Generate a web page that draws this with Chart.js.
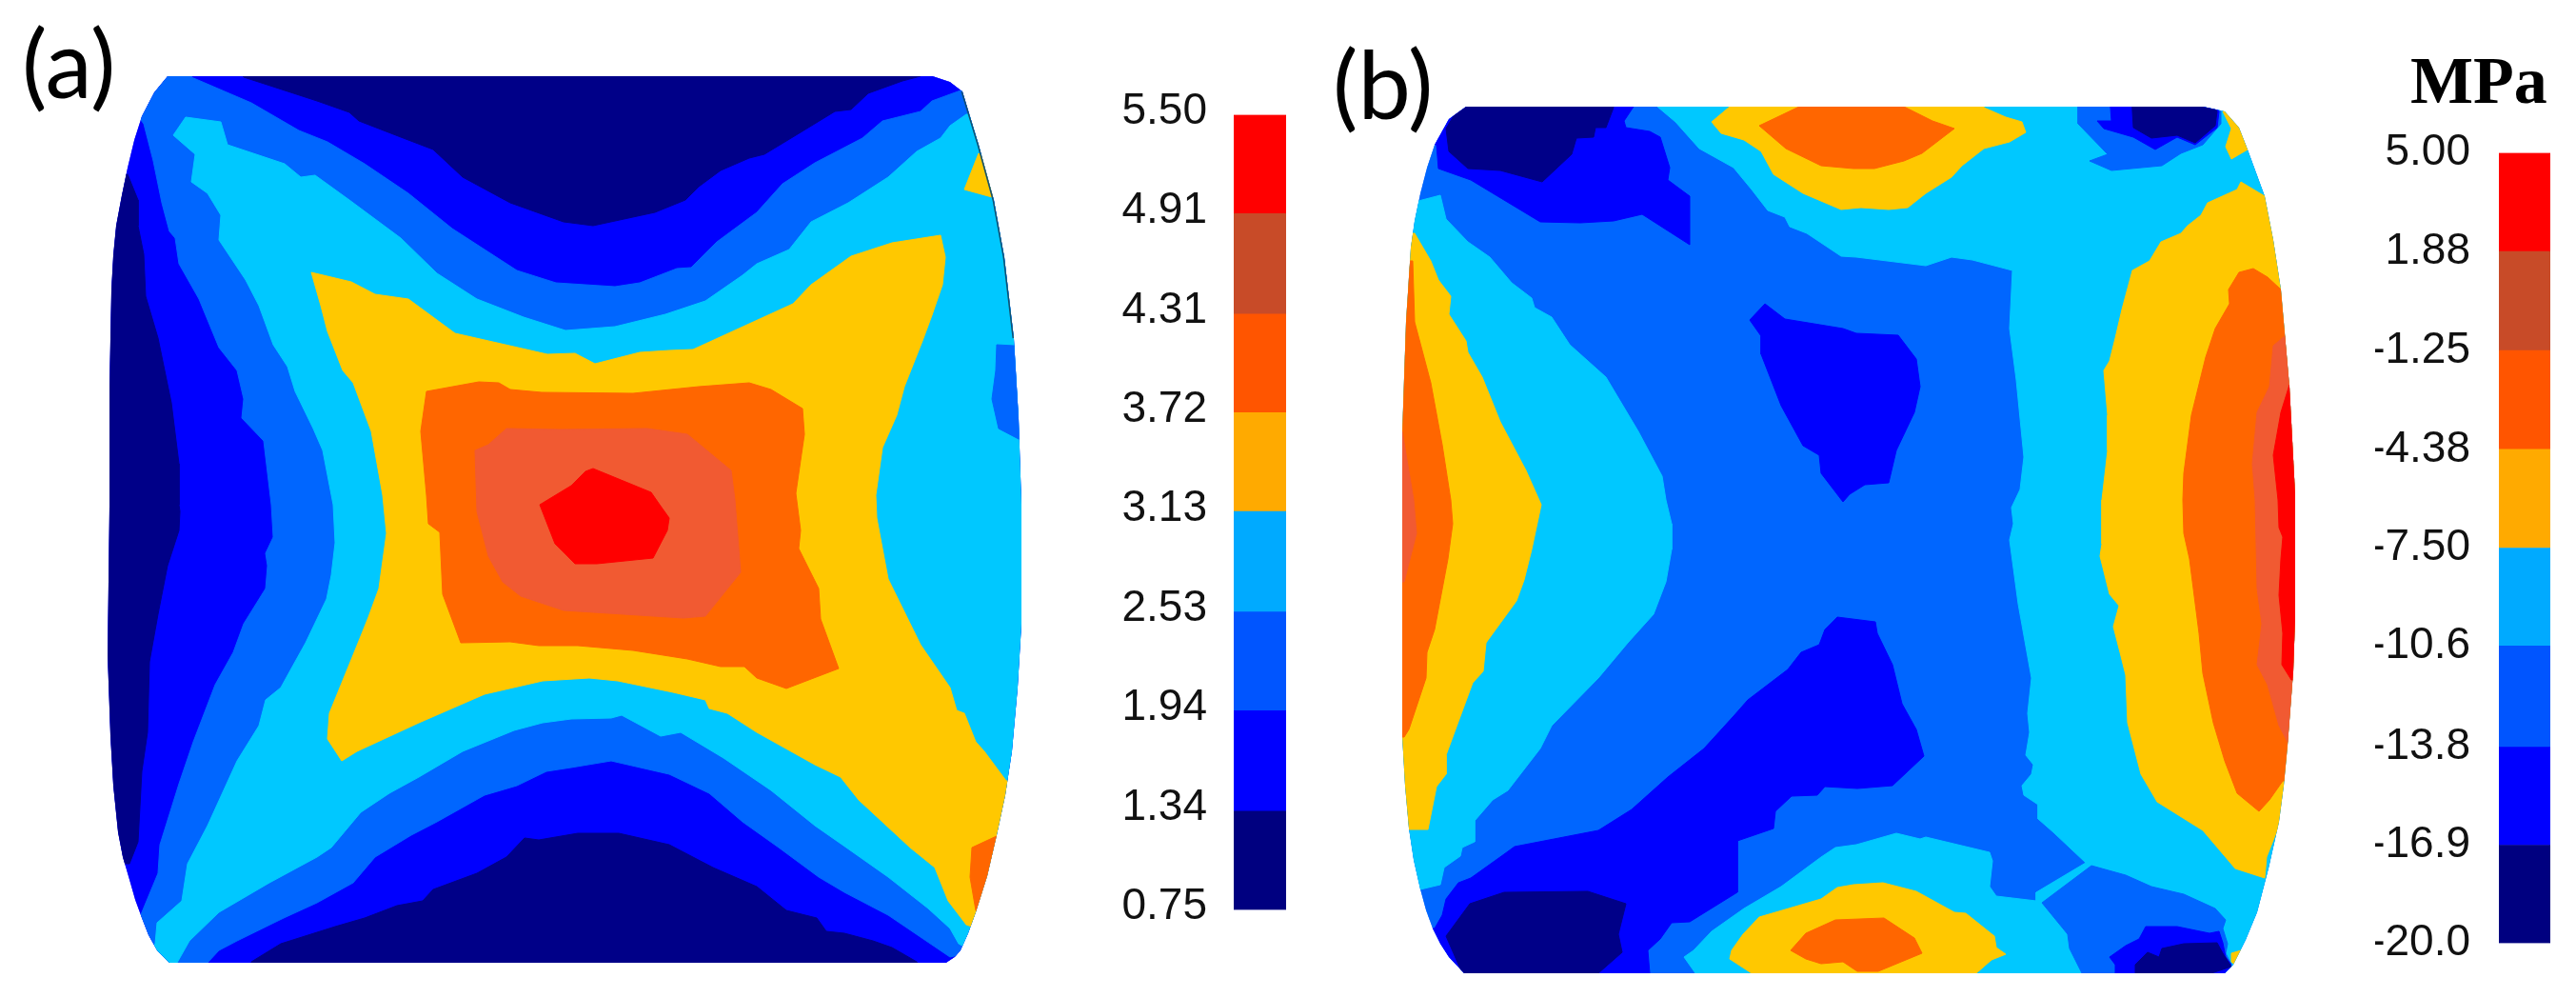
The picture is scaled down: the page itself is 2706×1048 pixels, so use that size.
<!DOCTYPE html>
<html>
<head>
<meta charset="utf-8">
<script src="https://cdn.jsdelivr.net/npm/chart.js@4"></script>
<style>
  html, body { margin: 0; background: #fff; }
  body { position: relative; width: 2706px; height: 1048px; overflow: hidden; }
  canvas { position: absolute; }
  .tag { position: absolute; font-family: Lato, sans-serif; font-size: 99px; line-height: 1; color: #000; }
  #unit { position: absolute; font: bold 70px "Liberation Serif", serif; line-height: 1; color: #000; left: 2532px; top: 50px; }
</style>
</head>
<body>
<div class="tag" style="left:23px;top:15px">(a)</div>
<div class="tag" style="left:1400px;top:37px">(b)</div>
<div id="unit">MPa</div>
<canvas id="fieldA" style="left:90px;top:60px" width="1020" height="980"></canvas>
<canvas id="barA" style="left:1166px;top:65px" width="185" height="946"></canvas>
<canvas id="fieldB" style="left:1440px;top:90px" width="1010" height="950"></canvas>
<canvas id="barB" style="left:2495px;top:103px" width="184" height="945"></canvas>
<script>
// colours of the contour bands, lowest to highest
const bandColors = ['#000088', '#0000ff', '#0066ff', '#00c8ff', '#ffc800', '#ff6600', '#f15a32', '#ff0000'];
// the legend bars use a slightly different palette in the original
const legendColors = ['#000080', '#0000ff', '#0055ff', '#00aaff', '#ffaa00', '#ff5500', '#c84b28', '#ff0000'];

const legendValuesA = [0.75, 1.34, 1.94, 2.53, 3.13, 3.72, 4.31, 4.91, 5.50];
const legendLabelsA = ['0.75', '1.34', '1.94', '2.53', '3.13', '3.72', '4.31', '4.91', '5.50'];
const legendValuesB = [-20.0, -16.9, -13.8, -10.6, -7.50, -4.38, -1.25, 1.88, 5.00];
const legendLabelsB = ['-20.0', '-16.9', '-13.8', '-10.6', '-7.50', '-4.38', '-1.25', '1.88', '5.00'];

// panel (a) specimen outline and contour bands
const outlineA = [[176,80],[162,97],[149,122],[141,147],[134,176],[128,205],[122,237],[119,268],[117,304],[115,406],[115,530],[113,688],[116,773],[119,825],[124,874],[129,900],[136,924],[142,945],[149,964],[156,982],[165,998],[178,1011],[994,1011],[1003,1005],[1009,998],[1017,980],[1025,958],[1037,920],[1047,877],[1056,835],[1063,789],[1069,722],[1073,655],[1073,530],[1070,439],[1065,355],[1055,270],[1044,210],[1028,152],[1011,96],[998,86],[980,80]];
const rimA = [[1011,96],[1028,152],[1044,210],[1055,270],[1065,355]];
const aNavyTop = [[256,60],[256,81],[333,106],[367,118],[377,127],[421,144],[455,157],[486,186],[536,213],[592,233],[623,237],[688,223],[720,210],[734,196],[757,179],[787,166],[803,162],[841,139],[877,117],[894,115],[912,98],[948,85],[967,80],[967,60]];
const aNavyLeft = [[90,183],[134,183],[145,210],[145,237],[151,267],[153,311],[166,355],[180,423],[188,487],[188,530],[189,537],[188,557],[176,594],[166,645],[157,695],[155,769],[149,810],[145,884],[136,907],[90,907]];
const aNavyBottom = [[264,1040],[264,1010],[295,991],[352,973],[383,964],[417,951],[444,946],[455,934],[501,917],[532,900],[551,880],[566,882],[607,875],[650,875],[703,887],[749,911],[795,931],[826,956],[858,964],[868,978],[887,980],[917,988],[937,995],[963,1010],[963,1040]];
const aBand2 = [[120,90],[170,60],[201,60],[201,81],[264,108],[314,137],[344,149],[383,172],[429,203],[475,240],[543,284],[584,297],[646,301],[672,297],[711,282],[726,281],[753,254],[795,223],[822,193],[856,171],[906,145],[927,127],[967,117],[979,106],[1009,95],[1100,90],[1100,1030],[1020,1000],[998,1005],[933,961],[887,937],[860,921],[818,890],[780,863],[745,833],[703,813],[642,799],[600,806],[574,810],[543,825],[509,835],[459,863],[432,877],[394,900],[371,927],[333,948],[298,964],[249,988],[230,998],[218,1011],[218,1030],[130,1000],[149,958],[166,917],[168,887],[188,823],[203,779],[226,719],[245,685],[256,655],[279,618],[281,594],[279,581],[287,564],[285,530],[277,463],[254,439],[256,419],[249,389],[230,365],[209,314],[188,277],[184,250],[178,243],[170,213],[161,169],[151,130]];
const aBand3 = [[195,123],[232,128],[239,152],[299,172],[316,186],[331,184],[367,210],[421,250],[459,287],[501,314],[550,333],[594,347],[646,343],[699,330],[741,316],[780,289],[795,277],[829,262],[852,233],[891,213],[933,186],[963,159],[988,145],[998,132],[1015,120],[1100,120],[1100,1040],[1007,991],[998,975],[975,954],[933,921],[889,890],[856,867],[810,830],[760,796],[715,769],[694,773],[653,751],[642,754],[600,755],[570,759],[540,767],[486,789],[440,816],[409,833],[379,853],[348,890],[333,900],[283,927],[230,958],[199,988],[186,1011],[178,1030],[150,1011],[163,991],[165,969],[191,946],[197,907],[218,867],[249,799],[272,762],[279,735],[295,722],[306,702],[321,675],[343,629],[348,604],[352,570],[350,530],[339,473],[329,450],[310,411],[302,385],[287,362],[272,321],[258,294],[230,252],[232,226],[218,203],[201,191],[205,162],[182,142]];
const aBand2Right = [[1047,362],[1065,363],[1090,363],[1090,462],[1070,461],[1049,450],[1042,419],[1046,389]];
const aBand4 = [[327,286],[369,296],[394,309],[429,314],[478,350],[575,372],[604,371],[625,382],[672,370],[703,368],[728,367],[787,340],[833,319],[852,299],[894,269],[937,255],[988,247],[993,270],[990,299],[979,331],[969,358],[950,406],[942,436],[927,470],[920,520],[921,544],[933,608],[967,677],[998,722],[1005,746],[1013,749],[1025,779],[1034,789],[1057,820],[1100,820],[1100,1000],[1015,971],[996,946],[982,911],[956,890],[902,840],[883,816],[856,803],[795,769],[764,749],[745,744],[741,735],[707,727],[649,715],[619,712],[570,715],[509,729],[440,759],[375,789],[359,799],[344,776],[346,749],[379,668],[387,648],[398,618],[406,560],[402,520],[390,453],[371,402],[360,389],[344,348],[337,321]];
const aBand4Corner = [[1028,161],[1013,199],[1042,207],[1060,190]];
const aBand5 = [[448,411],[503,401],[524,402],[536,409],[569,412],[665,413],[734,406],[787,402],[810,409],[843,429],[845,456],[836,518],[841,557],[839,576],[860,618],[862,650],[881,702],[826,723],[795,712],[782,700],[757,700],[722,692],[665,683],[607,678],[566,678],[536,674],[484,675],[465,624],[462,559],[450,550],[448,520],[442,453]];
const aBand5Corner = [[1021,890],[1049,877],[1070,880],[1040,960],[1025,956],[1019,921]];
const aBand6 = [[532,450],[588,451],[680,450],[722,456],[768,494],[772,525],[778,601],[741,647],[718,649],[592,641],[547,626],[528,611],[513,584],[501,537],[499,473],[513,467]];
const aBand7 = [[623,492],[684,517],[693,530],[703,544],[701,557],[686,586],[627,592],[604,592],[583,571],[567,530],[600,510],[615,495]];

// panel (b) specimen outline and contour bands
const outlineB = [[1540,112],[1522,125],[1507,152],[1499,176],[1492,203],[1486,232],[1482,260],[1477,338],[1473,456],[1473,773],[1476,825],[1480,870],[1485,903],[1492,934],[1498,956],[1505,975],[1513,991],[1522,1005],[1538,1022],[2337,1022],[2346,1013],[2359,987],[2371,958],[2383,912],[2394,863],[2399,825],[2403,783],[2409,705],[2411,648],[2411,520],[2405,406],[2396,304],[2388,252],[2379,206],[2361,157],[2352,134],[2337,117],[2314,112]];
const bLeft3 = [[1450,211],[1490,211],[1513,205],[1519,230],[1542,254],[1565,270],[1588,297],[1609,313],[1612,323],[1630,333],[1649,362],[1687,396],[1721,453],[1746,500],[1750,525],[1756,550],[1756,577],[1750,611],[1737,645],[1710,675],[1679,712],[1630,762],[1618,786],[1584,830],[1568,840],[1549,862],[1549,884],[1536,890],[1534,899],[1517,911],[1513,929],[1492,934],[1450,934]];
const bLeft4 = [[1450,245],[1486,245],[1503,274],[1511,294],[1524,311],[1522,330],[1540,358],[1542,370],[1557,396],[1576,443],[1603,494],[1619,530],[1609,577],[1601,609],[1593,631],[1561,675],[1558,705],[1547,717],[1519,793],[1519,813],[1509,826],[1500,871],[1482,871],[1450,871]];
const bLeft5 = [[1450,274],[1484,274],[1486,338],[1503,402],[1515,467],[1524,525],[1526,550],[1521,587],[1507,661],[1499,685],[1498,712],[1480,766],[1475,774],[1450,774]];
const bLeft6 = [[1450,453],[1473,453],[1485,525],[1488,560],[1475,611],[1450,611]];
const bTopLeft1 = [[1509,152],[1511,177],[1545,189],[1618,233],[1660,234],[1695,232],[1725,225],[1775,257],[1775,206],[1752,189],[1754,176],[1744,144],[1733,138],[1708,134],[1706,127],[1716,112],[1716,100],[1530,100],[1500,150]];
const bTopLeft0 = [[1540,100],[1519,135],[1522,159],[1542,177],[1576,179],[1620,191],[1651,162],[1656,145],[1674,144],[1676,134],[1687,134],[1695,113],[1695,100]];
const bMain3 = [[1741,100],[1741,112],[1760,128],[1785,156],[1821,176],[1840,199],[1857,221],[1875,228],[1880,238],[1898,245],[1934,269],[1950,270],[2023,279],[2050,270],[2072,273],[2114,284],[2111,345],[2118,399],[2126,480],[2122,514],[2113,533],[2115,550],[2111,567],[2120,634],[2134,712],[2130,749],[2132,769],[2128,793],[2136,803],[2134,813],[2124,825],[2126,835],[2141,845],[2141,860],[2157,874],[2191,906],[2139,937],[2139,946],[2097,941],[2090,931],[2093,904],[2090,895],[2023,879],[2017,881],[1992,875],[1950,887],[1928,890],[1913,900],[1871,931],[1832,954],[1798,978],[1779,998],[1769,1005],[1781,1022],[1781,1040],[2450,1040],[2450,100]];
const bTop4 = [[1817,100],[1817,112],[1798,128],[1808,140],[1832,147],[1850,159],[1863,183],[1894,203],[1934,220],[1955,218],[1984,220],[2004,218],[2023,203],[2050,186],[2061,174],[2084,156],[2111,149],[2128,139],[2124,128],[2107,123],[2084,113],[2084,100]];
const bTop5 = [[1890,100],[1890,112],[1848,132],[1876,156],[1913,174],[1947,177],[1969,177],[2000,169],[2019,161],[2053,135],[2030,127],[2000,112],[2000,100]];
const bCorner2 = [[2183,100],[2183,130],[2214,162],[2195,169],[2218,179],[2271,174],[2291,161],[2314,152],[2333,130],[2333,117],[2314,100]];
const bCorner1 = [[2216,100],[2218,127],[2203,127],[2210,135],[2241,144],[2264,157],[2287,144],[2306,152],[2329,134],[2331,117],[2314,100]];
const bCorner0 = [[2239,100],[2241,134],[2260,145],[2287,142],[2306,150],[2327,132],[2329,117],[2317,100]];
const bCorner4 = [[2335,117],[2344,135],[2338,154],[2344,167],[2361,157],[2370,130],[2345,110]];
const bRight4 = [[2379,206],[2354,191],[2350,199],[2319,213],[2312,226],[2298,237],[2291,245],[2270,254],[2258,274],[2240,284],[2229,325],[2222,355],[2216,379],[2210,389],[2214,436],[2214,473],[2208,525],[2208,571],[2206,584],[2216,624],[2226,636],[2220,658],[2227,685],[2233,709],[2235,759],[2249,813],[2266,842],[2314,872],[2348,912],[2379,922],[2381,900],[2394,867],[2440,867],[2440,206]];
const bRight5 = [[2352,286],[2367,282],[2382,291],[2396,304],[2440,304],[2440,820],[2398,820],[2384,840],[2373,852],[2350,833],[2337,799],[2325,759],[2314,707],[2310,665],[2300,587],[2294,560],[2293,525],[2294,497],[2302,436],[2317,375],[2327,345],[2342,319],[2341,304]];
const bRight6 = [[2400,353],[2388,363],[2384,406],[2371,433],[2366,487],[2369,525],[2371,618],[2376,655],[2371,698],[2382,719],[2394,762],[2403,779],[2440,779],[2440,353]];
const bRight7 = [[2405,404],[2396,433],[2388,478],[2393,525],[2394,554],[2398,564],[2396,587],[2394,625],[2398,665],[2397,698],[2407,714],[2440,714],[2440,404]];
const bMid1Upper = [[1854,319],[1838,336],[1850,353],[1850,372],[1871,426],[1894,468],[1911,478],[1913,497],[1936,527],[1943,519],[1959,509],[1984,507],[1992,473],[2011,433],[2017,406],[2013,377],[1994,352],[1950,350],[1936,345],[1875,335]];
const bMid1Lower = [[1930,648],[1970,653],[1972,665],[1988,698],[1998,739],[2013,766],[2021,794],[1988,825],[1951,828],[1917,826],[1909,835],[1882,836],[1865,852],[1863,870],[1825,883],[1825,937],[1775,968],[1756,969],[1744,986],[1731,998],[1733,1022],[1733,1040],[1490,1040],[1490,975],[1507,975],[1515,961],[1519,944],[1532,927],[1545,922],[1580,897],[1591,889],[1679,872],[1714,850],[1733,833],[1752,816],[1790,786],[1821,752],[1836,735],[1878,703],[1892,685],[1911,677],[1917,661]];
const bBottom0 = [[1519,983],[1544,949],[1580,937],[1668,936],[1708,949],[1700,981],[1704,1000],[1679,1022],[1679,1040],[1536,1040],[1536,1022]];
const bBottom4 = [[1840,1040],[1840,1022],[1817,1007],[1819,998],[1831,981],[1848,963],[1913,944],[1930,932],[1947,929],[1978,927],[2013,936],[2053,958],[2065,959],[2095,983],[2097,995],[2107,1002],[2092,1008],[2076,1022],[2076,1040]];
const bBottom5 = [[1881,998],[1897,980],[1928,966],[1979,964],[2011,985],[2019,1001],[1973,1020],[1951,1020],[1936,1010],[1913,1012],[1897,1007]];
const bLow2 = [[2197,909],[2233,919],[2260,931],[2294,939],[2327,954],[2338,966],[2335,975],[2340,991],[2338,1001],[2344,1013],[2337,1022],[2337,1040],[2188,1040],[2187,1022],[2174,996],[2172,981],[2145,948]];
const bLow1 = [[2254,973],[2287,973],[2321,980],[2331,978],[2335,990],[2338,1005],[2344,1013],[2340,1022],[2340,1040],[2221,1040],[2222,1022],[2222,1013],[2216,1005],[2233,993],[2247,986]];
const bLow0 = [[2271,996],[2294,991],[2329,990],[2335,1001],[2344,1015],[2323,1022],[2323,1040],[2243,1040],[2243,1013],[2256,1000],[2268,1005]];
const bLow4 = [[2344,1010],[2344,1001],[2354,998],[2348,1013]];

// [band index, polygon] in painting order, later ones on top
const regionsA = [
    [1, outlineA], [0, aNavyTop], [0, aNavyLeft], [0, aNavyBottom], [2, aBand2], [3, aBand3],
    [2, aBand2Right], [4, aBand4], [4, aBand4Corner], [5, aBand5], [5, aBand5Corner], [6, aBand6], [7, aBand7],
];
const regionsB = [
    [2, outlineB], [3, bLeft3], [4, bLeft4], [5, bLeft5], [6, bLeft6], [1, bTopLeft1], [0, bTopLeft0],
    [3, bMain3], [4, bTop4], [5, bTop5], [2, bCorner2], [1, bCorner1], [0, bCorner0], [4, bCorner4],
    [4, bRight4], [5, bRight5], [6, bRight6], [7, bRight7], [1, bMid1Upper], [1, bMid1Lower], [0, bBottom0],
    [4, bBottom4], [5, bBottom5], [2, bLow2], [1, bLow1], [0, bLow0], [4, bLow4],
];

function toPoints(poly) {
    const pts = poly.map((p) => ({ x: p[0], y: p[1] }));
    pts.push(pts[0]);
    return pts;
}

// Keep the bands inside the specimen outline
function outlineClip(outline) {
    return {
        id: 'outlineClip',
        beforeDatasetsDraw(chart) {
            const { ctx, scales } = chart;
            ctx.save();
            ctx.beginPath();
            outline.forEach((p, i) => {
                const px = scales.x.getPixelForValue(p[0]);
                const py = scales.y.getPixelForValue(p[1]);
                if (i === 0) ctx.moveTo(px, py);
                else ctx.lineTo(px, py);
            });
            ctx.closePath();
            ctx.clip();
        },
        afterDatasetsDraw(chart) {
            chart.ctx.restore();
        },
    };
}

function drawField(id, regions, outline, xRange, yRange, rim) {
    const datasets = regions.map(([band, poly], i) => ({
        data: toPoints(poly),
        showLine: true,
        fill: 'shape',
        backgroundColor: bandColors[band],
        borderColor: bandColors[band],
        borderWidth: 1,
        pointRadius: 0,
        tension: 0,
        order: regions.length - i + 1,
    }));
    if (rim) {
        // thin dark edge visible on the right side of panel (a)
        datasets.push({
            data: rim.map((p) => ({ x: p[0], y: p[1] })),
            showLine: true,
            fill: false,
            borderColor: '#14506e',
            borderWidth: 3,
            pointRadius: 0,
            order: 0,
        });
    }
    new Chart(document.getElementById(id), {
        type: 'scatter',
        data: { datasets },
        options: {
            responsive: false,
            animation: false,
            layout: { padding: 0 },
            plugins: { legend: { display: false }, tooltip: { enabled: false } },
            scales: {
                x: { type: 'linear', display: false, min: xRange[0], max: xRange[1] },
                y: { type: 'linear', display: false, reverse: true, min: yRange[0], max: yRange[1] },
            },
        },
        plugins: [outlineClip(outline)],
    });
}

function drawLegend(id, values, labels, axisWidth, labelPad, labelShift) {
    new Chart(document.getElementById(id), {
        type: 'bar',
        data: {
            labels: [''],
            datasets: legendColors.map((color, i) => ({
                data: [[values[i], values[i + 1]]],
                backgroundColor: color,
                borderWidth: 0,
                grouped: false,
                barPercentage: 1,
                categoryPercentage: 1,
            })),
        },
        options: {
            responsive: false,
            animation: false,
            layout: { padding: 0 },
            plugins: { legend: { display: false }, tooltip: { enabled: false } },
            scales: {
                x: { display: false },
                y: {
                    min: values[0],
                    max: values[values.length - 1],
                    grid: { display: false, drawTicks: false },
                    border: { display: false },
                    afterFit: (scale) => { scale.width = axisWidth; },
                    afterBuildTicks: (scale) => { scale.ticks = values.map((v) => ({ value: v })); },
                    ticks: {
                        autoSkip: false,
                        padding: labelPad,
                        labelOffset: labelShift,
                        color: '#111',
                        font: { family: '"Liberation Sans"', size: 46 },
                        callback: (value, index) => labels[index],
                    },
                },
            },
        },
    });
}

drawField('fieldA', regionsA, outlineA, [90, 1110], [60, 1040], rimA);
drawField('fieldB', regionsB, outlineB, [1440, 2450], [90, 1040]);
drawLegend('barA', legendValuesA, legendLabelsA, 130, 28, -3);
drawLegend('barB', legendValuesB, legendLabelsB, 130, 30, 0);
</script>
</body>
</html>
